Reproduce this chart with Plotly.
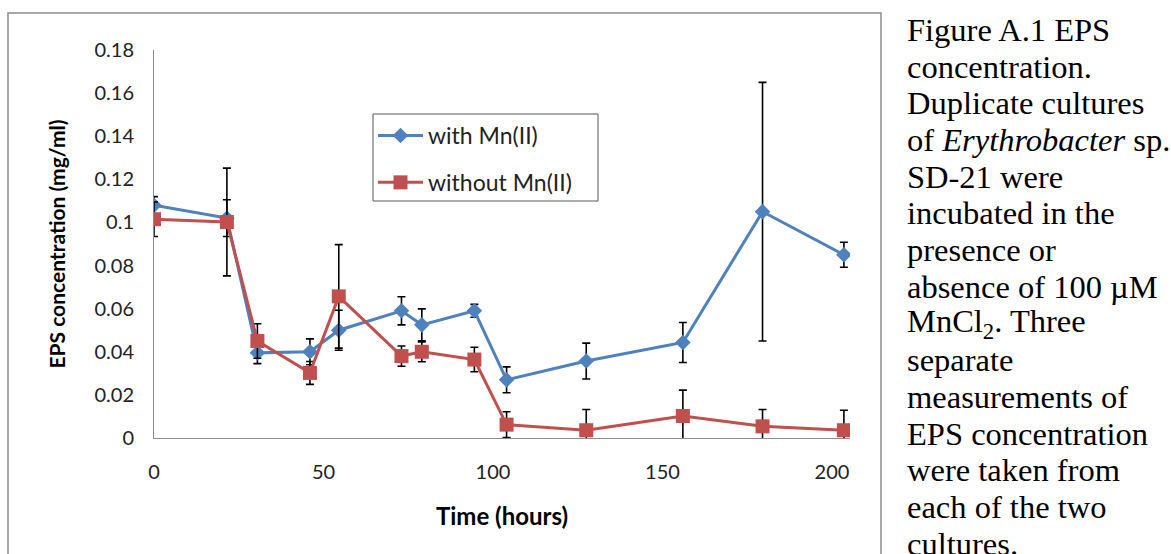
import plotly.graph_objects as go

# ---- data ----
hours = [0, 21.5, 30.5, 46, 54.5, 73, 79, 94.5, 104, 127.5, 156, 179.5, 203.5]
with_mn = [0.108, 0.102, 0.0395, 0.040, 0.050, 0.059, 0.0525, 0.059, 0.027, 0.0357, 0.0443, 0.105, 0.085]
with_mn_err = [0.004, 0.0085, 0.005, 0.006, 0.0093, 0.0065, 0.0074, 0.003, 0.006, 0.0083, 0.0093, 0.060, 0.0058]
without_mn = [0.1015, 0.1002, 0.045, 0.0302, 0.0657, 0.038, 0.040, 0.0364, 0.0062, 0.0036, 0.0102, 0.0054, 0.0036]
without_mn_err = [0.008, 0.025, 0.008, 0.0053, 0.024, 0.0047, 0.0046, 0.0057, 0.006, 0.0096, 0.012, 0.0078, 0.0093]

x_ticks = [0, 50, 100, 150, 200]
x_tick_labels = ["0", "50", "100", "150", "200"]
y_ticks = [0, 0.02, 0.04, 0.06, 0.08, 0.1, 0.12, 0.14, 0.16, 0.18]
y_tick_labels = ["0", "0.02", "0.04", "0.06", "0.08", "0.1", "0.12", "0.14", "0.16", "0.18"]

series_names = ["with Mn(II)", "without Mn(II)"]

caption_lines = [
    "Figure A.1 EPS",
    "concentration.",
    "Duplicate cultures",
    "of <i>Erythrobacter</i> sp.",
    "SD-21 were",
    "incubated in the",
    "presence or",
    "absence of 100 µM",
    "MnCl<sub>2</sub>. Three",
    "separate",
    "measurements of",
    "EPS concentration",
    "were taken from",
    "each of the two",
    "cultures.",
]

# ---- layout geometry ----
W, H = 1171, 554
ML, MR, MT, MB = 154, 321, 50, 116
PW, PH = W - ML - MR, H - MT - MB

def px_x(x):
    return (x - ML) / PW

def px_y(y):
    return (H - MB - y) / PH

BLUE = "#4F81BD"
RED = "#C0504D"
FONT = "Lato"

fig = go.Figure()
fig.add_trace(go.Scatter(
    x=hours, y=with_mn, name=series_names[0], mode="lines+markers",
    legendgroup="a",
    line=dict(color=BLUE, width=3),
    marker=dict(symbol="diamond", size=12, color=BLUE),
    error_y=dict(type="data", array=with_mn_err, visible=True, color="black", thickness=1.6, width=4),
))
fig.add_trace(go.Scatter(
    x=hours, y=without_mn, name=series_names[1], mode="lines+markers",
    legendgroup="b",
    line=dict(color=RED, width=3),
    marker=dict(symbol="square", size=14, color=RED),
    error_y=dict(type="data", array=without_mn_err, visible=True, color="black", thickness=1.6, width=4),
))

annotations = []
first_baseline = 40
step = 36.7
for i, line in enumerate(caption_lines):
    yb = first_baseline + i * step
    annotations.append(dict(
        text=line, xref="paper", yref="paper",
        x=px_x(905), y=px_y(yb - 10), xanchor="left", yanchor="middle",
        showarrow=False, align="left",
        font=dict(family="Liberation Serif", size=32.5, color="black"),
    ))

fig.update_layout(
    width=W, height=H,
    margin=dict(l=ML, r=MR, t=MT, b=MB, pad=0),
    paper_bgcolor="white", plot_bgcolor="white",
    font=dict(family=FONT, size=20, color="#222"),
    showlegend=True,
    legend=dict(
        x=px_x(373), y=px_y(114), xanchor="left", yanchor="top",
        borderwidth=0, bgcolor="rgba(255,255,255,0)",
        font=dict(family=FONT, size=23, color="#222"),
        tracegroupgap=14, itemwidth=45,
    ),
    xaxis=dict(
        range=[0, 205.3], tickvals=x_ticks, ticktext=x_tick_labels,
        showgrid=False, zeroline=False, showline=True, linecolor="#8c8c8c", linewidth=1,
        ticks="", ticklabelstandoff=16,
        title=dict(text="<b>Time (hours)</b>", font=dict(family=FONT, size=24, color="black"), standoff=26),
    ),
    yaxis=dict(
        range=[0, 0.18], tickvals=y_ticks, ticktext=y_tick_labels,
        showgrid=False, zeroline=False, showline=True, linecolor="#8c8c8c", linewidth=1,
        ticks="", ticklabelstandoff=15,
        title=dict(text="<b>EPS concentration (mg/ml)</b>", font=dict(family=FONT, size=21, color="black"), standoff=23),
    ),
    shapes=[
        dict(
            type="rect", xref="paper", yref="paper",
            x0=px_x(8), x1=px_x(881), y0=px_y(13), y1=px_y(600),
            line=dict(color="#8c8c8c", width=1.5), fillcolor="rgba(0,0,0,0)", layer="below",
        ),
        dict(
            type="rect", xref="paper", yref="paper",
            x0=px_x(373), x1=px_x(598), y0=px_y(114), y1=px_y(201),
            line=dict(color="#595959", width=1), fillcolor="white", layer="below",
        ),
    ],
    annotations=annotations,
)

fig.write_html("out.html")
